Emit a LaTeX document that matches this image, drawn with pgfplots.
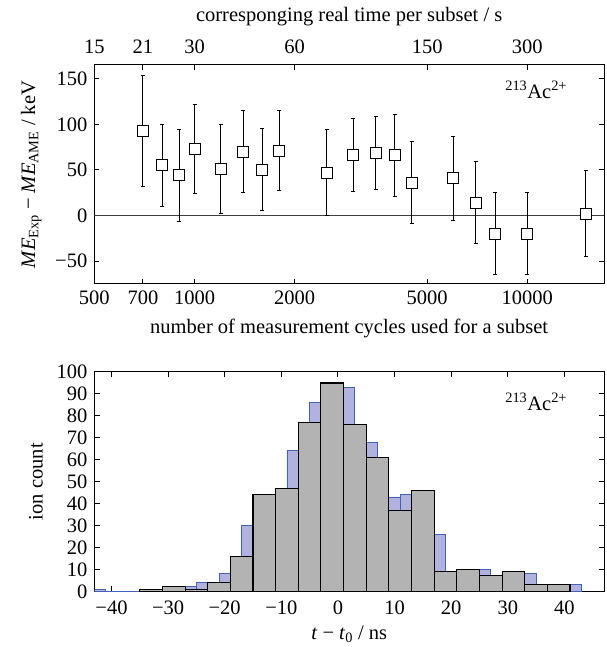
\documentclass[border=0pt]{standalone}
\usepackage{fontspec}
\setmainfont{Liberation Serif}
\usepackage{pgfplots}
\pgfplotsset{compat=1.18}
\definecolor{histblue}{HTML}{B1B3DE}
\definecolor{histedge}{HTML}{4262B5}
\definecolor{histgray}{HTML}{B3B3B3}

\pgfplotsset{
  common/.style={
    scale only axis,
    axis line style={line width=1pt},
    every tick/.style={black, line width=1pt},
    major tick length=5pt,
    tick align=inside,
    /pgf/number format/assume math mode=true,
    clip=true,
  },
}

\begin{document}
\fontsize{20.5}{24}\selectfont
\begin{tikzpicture}
\path[use as bounding box] (0,0) rectangle (606pt,647pt);

% top panel: mass excess vs subset size
\begin{axis}[common,
    at={(94.3pt,363pt)}, anchor=south west,
    width=509.7pt, height=219pt,
    xmode=log, xmin=500, xmax=17000,
    ymin=-75, ymax=165,
    xtick={500,700,1000,2000,5000,10000},
    xticklabels={500,700,1000,2000,5000,10000},
    ytick={-50,0,50,100,150},
    yticklabels={−50,0,50,100,150},
    xtick pos=both, ytick pos=both,
    xticklabel pos=bottom,
    xlabel={number of measurement cycles used for a subset},
    ylabel={\textit{ME}\textsubscript{Exp} − \textit{ME}\textsubscript{AME} / keV},
]
\addplot[black!75, line width=0.8pt, no markers] coordinates {(500,0) (17000,0)};

\addplot[black, line width=1pt, mark=none, draw=none,
  error bars/.cd, y dir=both, y explicit,
  error bar style={line width=1pt},
  error mark options={rotate=90, mark size=2pt, line width=1pt}]
  table[x=x, y=y, y error=e] {
x y e
700 93 61
800 55 45
900 44 50
1000 73 49
1200 51 49
1400 70 45
1600 50 45
1800 71 44
2500 47 47
3000 66 40
3500 69 40
4000 66 45
4500 36 45
6000 41 46
7000 14 45
8000 -20 45
10000 -20 45
15000 2 47
};
\addplot[only marks, mark=square*, mark size=5.5pt,
  mark options={fill=white, draw=black, line width=1pt}]
  table[x=x, y=y] {
x y
700 93
800 55
900 44
1000 73
1200 51
1400 70
1600 50
1800 71
2500 47
3000 66
3500 69
4000 66
4500 36
6000 41
7000 14
8000 -20
10000 -20
15000 2
};
\node at (rel axis cs:0.867,0.886) {\textsuperscript{213}Ac\textsuperscript{2+}};
\end{axis}

% top panel: second scale for real time
\begin{axis}[common,
    at={(94.3pt,363pt)}, anchor=south west,
    width=509.7pt, height=219pt,
    xmode=log, xmin=500, xmax=17000,
    ymin=-75, ymax=165,
    axis x line*=top, axis y line=none,
    xtick={500,700,1000,2000,5000,10000},
    xticklabels={15,21,30,60,150,300},
    xticklabel style={yshift=4pt},
    xlabel={corresponging real time per subset / s},
]
\addplot[draw=none] coordinates {(1000,0)};
\end{axis}

% bottom panel: histogram
\begin{axis}[common,
    at={(94.5pt,55.7pt)}, anchor=south west,
    width=509.5pt, height=219.3pt,
    xmin=-43, xmax=47, ymin=0, ymax=100,
    xtick={-40,-30,...,40},
    xticklabels={−40,−30,−20,−10,0,10,20,30,40},
    ytick={0,10,...,100},
    xtick pos=both, ytick pos=both,
    xticklabel pos=bottom, yticklabel pos=left,
    xticklabel style={yshift=-3pt},
    xlabel style={yshift=3pt},
    xlabel={\textit{t} − \textit{t}\textsubscript{0} / ns},
    ylabel={ion count},
]
\addplot[ybar interval, fill=histblue, draw=histedge, line width=0.9pt]
  coordinates {
(-45,1) (-41,0) (-37,0) (-33,1) (-29,2) (-25,4) (-21,8) (-17,30)
(-13,44) (-9,64) (-5,86) (-1,93) (3,68) (7,43) (11,44) (15,26)
(19,9) (23,10) (27,5) (31,8) (35,0) (39,3) (43,3)
};
\addplot[ybar interval, fill=histgray, draw=black, line width=1.1pt]
  coordinates {
(-35,1) (-31,2) (-27,1) (-23,4) (-19,16) (-15,44) (-11,47) (-7,77)
(-3,95) (1,76) (5,61) (9,37) (13,46) (17,9) (21,10) (25,7)
(29,9) (33,3) (37,3) (41,3)
};
\node at (rel axis cs:0.867,0.863) {\textsuperscript{213}Ac\textsuperscript{2+}};
\end{axis}
\end{tikzpicture}
\end{document}
